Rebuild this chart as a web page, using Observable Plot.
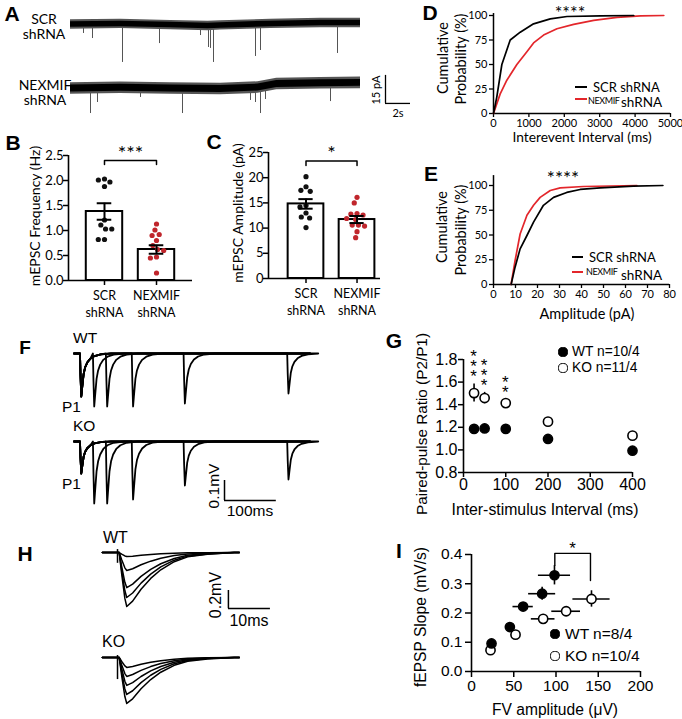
<!DOCTYPE html>
<html><head><meta charset="utf-8">
<script src="https://cdn.jsdelivr.net/npm/d3@7"></script>
<script src="https://cdn.jsdelivr.net/npm/@observablehq/plot@0.6"></script>
<style>
body{margin:0;background:#fff;}
#fig{position:relative;width:682px;height:719px;overflow:hidden;background:#fff;}
.t{position:absolute;white-space:pre;line-height:1;color:#000;}
</style></head><body><div id="fig"></div>
<script>
// ================= DATA =================
// A: mEPSC traces (time s, current pA relative to baseline)
const aScrBaseT = [0, 4, 8, 11, 12, 16, 20, 23.2];
const aScrBaseV = [0, 0.3, -0.3, -0.8, -0.5, 0.3, 0.8, 0.8];
const aScrEventT = [1.04, 1.76, 4.16, 7.12, 10.4, 11.04, 11.2, 11.44, 14.8, 15.2, 21.36];
const aScrEventAmp = [4.8, 7.5, 20.3, 10.2, 5.9, 12.3, 12.8, 20.3, 17.1, 13.9, 15.5];
const aNexBaseT = [0, 4, 8, 12, 15, 16.5, 20, 23.2];
const aNexBaseV = [0, 0.4, 0, -0.3, 0.5, 2.4, 2.8, 3.0];
const aNexEventT = [1.6, 2.16, 5.6, 8.96, 14.4, 14.8, 15.2, 15.6, 20.8];
const aNexEventAmp = [13.4, 7.5, 4.8, 13.4, 6.4, 7.5, 13.4, 5.9, 7.0];
const aNoise = [2.5, 3.1];               // half-width of noise band (pA): SCR, NEXMIF
const aScaleBar = {t: 25.2, v: -8.0, dt: 2, dv: 15};

// B: mEPSC frequency (Hz)
const bcGroups = ["SCR\nshRNA", "NEXMIF\nshRNA"];
const bMean = [1.38, 0.62];
const bSem = [0.165, 0.085];
const bScr = [2.03, 2.01, 1.97, 1.88, 1.21, 1.11, 1.03, 1.03, 0.82, 0.82];
const bNex = [1.13, 1.01, 0.92, 0.90, 0.80, 0.70, 0.62, 0.60, 0.47, 0.45, 0.15];
const bSig = {from: 0, to: 1, y: 2.4, leg: 2.32, label: "***"};

// C: mEPSC amplitude (pA)
const cMean = [14.8, 11.7];
const cSem = [0.95, 0.7];
const cScr = [20.2, 18.2, 17.5, 17.3, 14.5, 14.2, 13.0, 12.2, 12.0, 10.1];
const cNex = [16.1, 15.0, 12.9, 12.8, 12.6, 11.9, 11.7, 10.6, 10.6, 10.4, 9.3, 8.1];
const cSig = {from: 0, to: 1, y: 23.3, leg: 22.4, label: "*"};

// D: cumulative interevent interval
const dScrX = [0, 94, 236, 472, 755, 1132, 1604, 2075, 3019, 3962];
const dScrY = [0, 17, 50, 75, 83, 91.5, 96.6, 99, 99.7, 100];
const dNexX = [0, 94, 189, 377, 660, 943, 1132, 1415, 1792, 2264, 2830, 3490, 4151, 4811];
const dNexY = [0, 10, 20, 34, 50, 63, 72, 80, 86.5, 91, 95, 98, 99.7, 100];

// E: cumulative amplitude
const eScrX = [8, 9.8, 12.1, 15.2, 18.2, 22.7, 27.3, 33.3, 39.4, 48.5, 63.6, 77];
const eScrY = [0, 17.5, 36, 49.5, 63, 80, 88, 93, 96, 97.6, 99.3, 100];
const eNexX = [8, 9.8, 12.1, 15.2, 18.2, 21.2, 25.8, 30.3, 40.9, 65.2];
const eNexY = [0, 24, 51, 70, 80, 88, 95, 97.6, 99, 100];

// F: paired-pulse traces (ms, mV)
const fISI = [25, 50, 100, 200, 400];
const fTmplT = [0, 1, 2.5, 4, 7, 10, 14, 20, 28, 40, 60];
const fTmplV = [0, -0.5, -1, -0.82, -0.48, -0.32, -0.21, -0.12, -0.06, -0.02, 0];
const fWT_P1 = 0.215;
const fWT_P2 = [0.265, 0.265, 0.265, 0.25, 0.2];
const fKO_P1 = 0.16;
const fKO_P2 = [0.31, 0.31, 0.29, 0.22, 0.19];
const fRange = [-11.5, 444];
const fScaleBar = {t: 279, v: -0.295, dt: 100, dv: 0.1};

// G: paired-pulse ratio
const gISI = [25, 50, 100, 200, 400];
const gWT = [1.186, 1.19, 1.186, 1.097, 0.993];
const gKO = [1.503, 1.459, 1.414, 1.25, 1.126];
const gKOsem = [0.08, 0.05, 0.03, 0.02, 0.02];
const gStars = [3, 3, 2, 0, 0];

// H: fEPSP traces (ms, mV)
const hT = [0.4, 1.0, 1.75, 2.2, 3.6, 5.6, 7.9, 10.3, 13.5, 16.7, 21.4, 27.8];
const hV = [0, -0.4, -0.85, -1, -0.9, -0.68, -0.48, -0.32, -0.17, -0.08, -0.03, 0];
const hWTamp = [0.045, 0.2, 0.39, 0.5, 0.6];
const hKOamp = [0.11, 0.21, 0.31, 0.41, 0.51];
const hWTartifact = [0.033, -0.12];
const hKOartifact = [0.022, -0.245];
const hRange = [-3.6, 29];
const hScaleBar = {t: 26.4, v: -0.622, dt: 10, dv: 0.2};

// I: input-output
const iWTx = [23.7, 45.4, 61.1, 83.6, 98.2];
const iWTy = [0.096, 0.152, 0.222, 0.266, 0.329];
const iWTxe = [3, 5, 12, 16, 19];
const iWTye = [0.01, 0.01, 0.012, 0.022, 0.033];
const iKOx = [22.5, 52.1, 84.8, 112, 142];
const iKOy = [0.073, 0.126, 0.18, 0.206, 0.248];
const iKOxe = [3, 5, 14, 17, 22];
const iKOye = [0.008, 0.01, 0.012, 0.015, 0.028];
const iSig = {x1: 98.6, x2: 140.8, y: 0.404, leg1: 0.362, leg2: 0.311, label: "*"};

// ================= DRAWING =================
const fig = document.getElementById("fig");
const LATO = "Lato, 'Open Sans', sans-serif";
const ARIAL = "'Liberation Sans', Arial, sans-serif";
const RED = "#e3262b";
const RED_DOT = "#c0262c";

function put(node, left, top) {
  node.style.position = "absolute";
  node.style.left = left + "px";
  node.style.top = top + "px";
  fig.appendChild(node);
  return node;
}
function label(text, x, y, o = {}) {
  const d = document.createElement("div");
  d.className = "t";
  d.textContent = text;
  d.style.fontFamily = o.family || LATO;
  d.style.fontSize = (o.size || 14) + "px";
  d.style.fontWeight = o.weight || "normal";
  if (o.lh) d.style.lineHeight = o.lh;
  if (o.ls) d.style.letterSpacing = o.ls + "px";
  d.style.textAlign = o.align || "center";
  if (o.color) d.style.color = o.color;
  const tx = o.anchor === "start" ? "0" : o.anchor === "end" ? "-100%" : "-50%";
  d.style.left = x + "px";
  d.style.top = y + "px";
  d.style.transform = `translate(${tx},-50%)` + (o.rot ? ` rotate(${o.rot}deg)` : "");
  fig.appendChild(d);
}
function swatch(x1, x2, y, color) {
  const d = document.createElement("div");
  d.style.cssText = `position:absolute;left:${x1}px;top:${y - 1}px;width:${x2 - x1}px;height:2px;background:${color}`;
  fig.appendChild(d);
}
function legendDot(x, y, r, filled) {
  const d = document.createElement("div");
  d.style.cssText = `position:absolute;left:${x - r}px;top:${y - r}px;width:${2 * r}px;height:${2 * r}px;border-radius:50%;box-sizing:border-box;border:1.6px solid #000;background:${filled ? "#000" : "#fff"}`;
  fig.appendChild(d);
}
const style = fam => ({fontFamily: fam, background: "transparent", color: "#000", overflow: "visible"});

function tracePlot(w, h, xd, yd, marks) {
  return Plot.plot({
    width: w, height: h, margin: 0,
    x: {domain: xd, range: [0, w], axis: null},
    y: {domain: yd, range: [h, 0], axis: null},
    style: style(ARIAL),
    marks
  });
}

// ---------- A ----------
function noiseMarks(baseT, baseV, noise, evT, evA) {
  const base = baseT.map((t, i) => ({t, v: baseV[i]}));
  const ev = evT.map((t, i) => ({t, a: evA[i]}));
  return [
    Plot.ruleX(ev, {x: "t", y1: 0, y2: d => -d.a, stroke: "#555", strokeWidth: 1}),
    Plot.areaY(base, {x: "t", y1: d => d.v - noise, y2: d => d.v + noise, fill: "#555"}),
    Plot.areaY(base, {x: "t", y1: d => d.v - noise * 0.6, y2: d => d.v + noise * 0.6, fill: "#000"})
  ];
}
put(tracePlot(350, 65, [0, 28], [-24.6, 10.16],
  noiseMarks(aScrBaseT, aScrBaseV, aNoise[0], aScrEventT, aScrEventAmp)), 70, 5);
put(tracePlot(350, 60, [0, 28], [-18.2, 13.9], [
  ...noiseMarks(aNexBaseT, aNexBaseV, aNoise[1], aNexEventT, aNexEventAmp),
  Plot.ruleX([aScaleBar], {x: "t", y1: "v", y2: d => d.v + d.dv, strokeWidth: 1.3}),
  Plot.ruleY([aScaleBar], {y: "v", x1: "t", x2: d => d.t + d.dt, strokeWidth: 1.3})
]), 70, 62);
label("A", 12, 13, {family: ARIAL, weight: "bold", size: 21});
label("SCR\nshRNA", 44, 26, {size: 14, lh: "15px"});
label("NEXMIF\nshRNA", 45, 92, {size: 14, lh: "15px"});
label("15 pA", 375, 90, {size: 11, rot: -90});
label("2s", 398, 112, {size: 11});

// ---------- B, C ----------
function barPanel(o) {
  const {left, top, W, H, mL, mR, mT, mB, xd, yd, yTicks, yFmt, mean, sem, scr, nex, sig} = o;
  const ppu = (W - mL - mR) / (xd[1] - xd[0]);
  const mid = (xd[0] + xd[1]) / 2;
  const idx = [0, 1];
  const caps = idx.flatMap(i => [{i, y: mean[i] + sem[i]}, {i, y: mean[i] - sem[i]}]);
  const bracket = [
    {x: sig.from, y: sig.leg}, {x: sig.from, y: sig.y},
    {x: sig.to, y: sig.y}, {x: sig.to, y: sig.leg}
  ];
  const p = Plot.plot({
    width: W, height: H, marginLeft: mL, marginRight: mR, marginTop: mT, marginBottom: mB,
    x: {domain: xd}, y: {domain: yd},
    style: style(LATO),
    marks: [
      Plot.rectY(idx, {x1: i => i - 0.35, x2: i => i + 0.35, y1: 0, y2: i => mean[i], fill: "white", stroke: "black", strokeWidth: 2}),
      Plot.dot(scr.map(v => ({v})), Plot.dodgeX("middle", {y: "v", r: 2.6, padding: 2, fill: "#111", dx: (0 - mid) * ppu})),
      Plot.dot(nex.map(v => ({v})), Plot.dodgeX("middle", {y: "v", r: 2.6, padding: 2, fill: RED_DOT, dx: (1 - mid) * ppu})),
      Plot.ruleX(idx, {x: i => i, y1: i => mean[i] - sem[i], y2: i => mean[i] + sem[i], strokeWidth: 2}),
      Plot.ruleY(caps, {x1: d => d.i - 0.14, x2: d => d.i + 0.14, y: "y", strokeWidth: 2}),
      Plot.line(bracket, {x: "x", y: "y", strokeWidth: 1.5}),
      Plot.text([sig], {x: d => (d.from + d.to) / 2, y: "y", text: "label", fontSize: 20, dy: -7}),
      Plot.ruleX([xd[0]], {y1: yd[0], y2: yd[1], strokeWidth: 1.6}),
      Plot.ruleY([0], {strokeWidth: 1.6}),
      Plot.axisY({ticks: yTicks, tickFormat: yFmt, tickSize: 5, tickPadding: 0, fontSize: 13, strokeWidth: 1.5, label: null}),
      Plot.axisX({ticks: idx, tickFormat: i => bcGroups[i], tickSize: 5, tickPadding: 3, fontSize: 12.5, lineHeight: 1.35, strokeWidth: 1.5, label: null})
    ]
  });
  put(p, left, top);
}
barPanel({left: 0, top: 140, W: 200, H: 180, mL: 68, mR: 8, mT: 15, mB: 40,
  xd: [-0.692, 1.692], yd: [0, 2.5], yTicks: [0, 0.5, 1, 1.5, 2, 2.5], yFmt: d3.format(".1f"),
  mean: bMean, sem: bSem, scr: bScr, nex: bNex, sig: bSig});
barPanel({left: 200, top: 140, W: 200, H: 180, mL: 68, mR: 20, mT: 12, mB: 42,
  xd: [-0.735, 1.46], yd: [0, 25], yTicks: [0, 5, 10, 15, 20, 25], yFmt: d => String(d),
  mean: cMean, sem: cSem, scr: cScr, nex: cNex, sig: cSig});
label("B", 13, 142, {family: ARIAL, weight: "bold", size: 21});
label("C", 214, 141, {family: ARIAL, weight: "bold", size: 21});
label("mEPSC Frequency (Hz)", 35, 216, {size: 14, rot: -90});
label("mEPSC Amplitude (pA)", 238, 213, {size: 14, rot: -90});

// ---------- D, E ----------
function cdfPanel(o) {
  const {left, top, W, H, mL, mR, mT, mB, xd, xTicks, yTop, scr, nex} = o;
  const p = Plot.plot({
    width: W, height: H, marginLeft: mL, marginRight: mR, marginTop: mT, marginBottom: mB,
    x: {domain: xd}, y: {domain: [0, 100]},
    style: style(LATO),
    marks: [
      Plot.ruleX([xd[0]], {y1: 0, y2: yTop, strokeWidth: 1.5}),
      Plot.ruleY([0], {strokeWidth: 1.5}),
      Plot.axisX({ticks: xTicks, tickFormat: d3.format("d"), tickSize: 4, tickPadding: 2, fontSize: 11, strokeWidth: 1.3, label: null}),
      Plot.axisY({ticks: [0, 25, 50, 75, 100], tickFormat: d3.format("d"), tickSize: 4, tickPadding: 2, fontSize: 11, strokeWidth: 1.3, label: null}),
      Plot.line(nex, {x: "x", y: "y", stroke: RED, strokeWidth: 1.7}),
      Plot.line(scr, {x: "x", y: "y", stroke: "#000", strokeWidth: 1.7})
    ]
  });
  put(p, left, top);
}
cdfPanel({left: 400, top: 0, W: 282, H: 160, mL: 93, mR: 12, mT: 15, mB: 47,
  xd: [0, 5000], xTicks: [0, 1000, 2000, 3000, 4000, 5000], yTop: 102,
  scr: dScrX.map((x, i) => ({x, y: dScrY[i]})), nex: dNexX.map((x, i) => ({x, y: dNexY[i]}))});
cdfPanel({left: 400, top: 160, W: 282, H: 160, mL: 93, mR: 13, mT: 25, mB: 36,
  xd: [0, 80], xTicks: [0, 10, 20, 30, 40, 50, 60, 70, 80], yTop: 110,
  scr: eScrX.map((x, i) => ({x, y: eScrY[i]})), nex: eNexX.map((x, i) => ({x, y: eNexY[i]}))});
label("D", 430, 12, {family: ARIAL, weight: "bold", size: 21});
label("E", 431, 173, {family: ARIAL, weight: "bold", size: 21});
label("Cumulative", 443, 58, {size: 14.5, rot: -90});
label("Probability (%)", 461, 59, {size: 14.5, rot: -90});
label("Cumulative", 442, 227, {size: 14.5, rot: -90});
label("Probability (%)", 461, 230, {size: 14.5, rot: -90});
label("Interevent Interval (ms)", 582, 137, {size: 13.8});
label("Amplitude (pA)", 587, 314, {size: 14.5});
label("****", 570, 12, {size: 18, lh: 0.5});
label("****", 563, 178, {size: 19, lh: 0.5});
swatch(575, 587, 87, "#000"); label("SCR shRNA", 593, 87, {size: 13, anchor: "start"});
swatch(575, 587, 99, RED); label("NEXMIF", 588, 100, {size: 9, ls: -0.4, anchor: "start"});
label("shRNA", 621, 103, {size: 13.5, anchor: "start"});
swatch(572, 583, 257, "#000"); label("SCR shRNA", 589, 257, {size: 13, anchor: "start"});
swatch(572, 583, 272, RED); label("NEXMIF", 586, 271, {size: 9, ls: -0.4, anchor: "start"});
label("shRNA", 621, 276, {size: 13.5, anchor: "start"});

// ---------- F ----------
function fSweeps(p1, p2s) {
  return fISI.flatMap((isi, k) => {
    const pts = [{t: fRange[0], v: 0}];
    fTmplT.forEach((t, i) => { if (t < isi) pts.push({t, v: p1 * fTmplV[i]}); });
    fTmplT.forEach((t, i) => pts.push({t: t + isi, v: p2s[k] * fTmplV[i]}));
    pts.push({t: fRange[1], v: 0});
    return pts.map(p => ({...p, k}));
  });
}
const fXd = [-18.3, 464.3];
put(tracePlot(250, 75, fXd, [-0.31, 0.065], [
  Plot.line(fSweeps(fWT_P1, fWT_P2), {x: "t", y: "v", z: "k", stroke: "#000", strokeWidth: 1.8})
]), 70, 340);
put(tracePlot(250, 95, fXd, [-0.41, 0.065], [
  Plot.line(fSweeps(fKO_P1, fKO_P2), {x: "t", y: "v", z: "k", stroke: "#000", strokeWidth: 1.8}),
  Plot.ruleX([fScaleBar], {x: "t", y1: "v", y2: d => d.v + d.dv, strokeWidth: 1.5}),
  Plot.ruleY([fScaleBar], {y: "v", x1: "t", x2: d => d.t + d.dt, strokeWidth: 1.5})
]), 70, 428);
label("F", 25, 347, {family: ARIAL, weight: "bold", size: 19});
label("WT", 73, 338, {family: ARIAL, size: 15.5, anchor: "start"});
label("P1", 62, 407, {family: ARIAL, size: 15.5, anchor: "start"});
label("KO", 73, 426, {family: ARIAL, size: 15.5, anchor: "start"});
label("P1", 62, 484, {family: ARIAL, size: 15.5, anchor: "start"});
label("0.1mV", 214, 486, {family: ARIAL, size: 15.5, rot: -90});
label("100ms", 250, 511, {family: ARIAL, size: 15.5});

// ---------- G ----------
const gData = gISI.map((isi, i) => ({isi, wt: gWT[i], ko: gKO[i], sem: gKOsem[i], stars: gStars[i]}));
const gLeft = 360, gTop = 330;
const gPlot = put(Plot.plot({
  width: 322, height: 190, marginLeft: 103, marginRight: 50, marginTop: 29, marginBottom: 48,
  x: {domain: [0, 400]}, y: {domain: [0.8, 1.8]},
  style: style(ARIAL),
  marks: [
    Plot.ruleX([0], {y1: 0.8, y2: 1.8, strokeWidth: 1.6}),
    Plot.ruleY([0.8], {x1: 0, x2: 400, strokeWidth: 1.6}),
    Plot.axisY({ticks: [0.8, 1, 1.2, 1.4, 1.6, 1.8], tickFormat: d3.format(".1f"), tickSize: 5, tickPadding: 1, fontSize: 16, strokeWidth: 1.5, label: null}),
    Plot.axisX({ticks: [0, 100, 200, 300, 400], tickSize: 5, tickPadding: 1, fontSize: 16, strokeWidth: 1.5, label: null}),
    Plot.ruleX(gData, {x: "isi", y1: d => d.ko - d.sem, y2: d => d.ko + d.sem, strokeWidth: 1.6}),
    Plot.dot(gData, {x: "isi", y: "wt", r: 4.6, fill: "#000", stroke: "#000"}),
    Plot.dot(gData, {x: "isi", y: "ko", r: 4.6, fill: "#fff", stroke: "#000", strokeWidth: 1.6})
  ]
}), gLeft, gTop);
// significance stars stacked above KO error bars (positions from the plot's own scales)
{
  const sx = gPlot.scale("x"), sy = gPlot.scale("y");
  gData.filter(d => d.stars > 0).forEach(d => {
    const px = gLeft + sx.apply(d.isi);
    const top = gTop + sy.apply(d.ko + d.sem);
    const cy = top - 10 - (d.stars - 1) * 5 + 3.9;
    label(Array(d.stars).fill("*").join("\n"), px, cy, {family: ARIAL, size: 17, lh: "10px"});
  });
}
label("G", 394, 340, {family: ARIAL, weight: "bold", size: 21});
label("Paired-pulse Ratio (P2/P1)", 422, 424, {family: ARIAL, size: 15.3, rot: -90});
label("Inter-stimulus Interval (ms)", 545, 510, {family: ARIAL, size: 15.8});
legendDot(563, 352, 4.6, true); label("WT n=10/4", 572, 352, {family: ARIAL, size: 13.8, anchor: "start"});
legendDot(563, 368, 4.6, false); label("KO n=11/4", 572, 368, {family: ARIAL, size: 13.8, anchor: "start"});

// ---------- H ----------
function hSweeps(amps) {
  return amps.flatMap((a, k) => [
    {t: hRange[0], v: 0, k}, {t: 0, v: 0, k},
    ...hT.map((t, i) => ({t, v: a * hV[i], k})),
    {t: hRange[1], v: 0, k}
  ]);
}
const hXd = [-5.24, 38.8];
put(tracePlot(185, 85, hXd, [-0.789, 0.156], [
  Plot.line(hSweeps(hWTamp), {x: "t", y: "v", z: "k", stroke: "#000", strokeWidth: 1.5}),
  Plot.ruleX([0], {y1: hWTartifact[0], y2: hWTartifact[1], strokeWidth: 1.5}),
  Plot.ruleX([hScaleBar], {x: "t", y1: "v", y2: d => d.v + d.dv, strokeWidth: 1.5}),
  Plot.ruleY([hScaleBar], {y: "v", x1: "t", x2: d => d.t + d.dt, strokeWidth: 1.5})
]), 95, 538);
put(tracePlot(185, 75, hXd, [-0.644, 0.189], [
  Plot.line(hSweeps(hKOamp), {x: "t", y: "v", z: "k", stroke: "#000", strokeWidth: 1.5}),
  Plot.ruleX([0], {y1: hKOartifact[0], y2: hKOartifact[1], strokeWidth: 1.5})
]), 95, 640);
label("H", 25, 553, {family: ARIAL, weight: "bold", size: 21});
label("WT", 103, 538, {family: ARIAL, size: 16, anchor: "start"});
label("KO", 102, 642, {family: ARIAL, size: 16, anchor: "start"});
label("0.2mV", 216, 595, {family: ARIAL, size: 16, rot: -90});
label("10ms", 249, 621, {family: ARIAL, size: 16});

// ---------- I ----------
const iWT = iWTx.map((x, i) => ({x, y: iWTy[i], xe: iWTxe[i], ye: iWTye[i]}));
const iKO = iKOx.map((x, i) => ({x, y: iKOy[i], xe: iKOxe[i], ye: iKOye[i]}));
const errMarks = data => [
  Plot.ruleY(data, {y: "y", x1: d => d.x - d.xe, x2: d => d.x + d.xe, strokeWidth: 1.6}),
  Plot.ruleX(data, {x: "x", y1: d => d.y - d.ye, y2: d => d.y + d.ye, strokeWidth: 1.6})
];
put(Plot.plot({
  width: 322, height: 199, marginLeft: 111, marginRight: 42, marginTop: 34, marginBottom: 48,
  x: {domain: [0, 200]}, y: {domain: [0, 0.4]},
  style: style(ARIAL),
  marks: [
    Plot.ruleX([0], {y1: 0, y2: 0.4, strokeWidth: 1.6}),
    Plot.ruleY([0], {x1: 0, x2: 200, strokeWidth: 1.6}),
    Plot.axisY({ticks: [0, 0.1, 0.2, 0.3, 0.4], tickFormat: d3.format(".1f"), tickSize: 6, tickPadding: 3, fontSize: 15.5, strokeWidth: 1.5, label: null}),
    Plot.axisX({ticks: [0, 50, 100, 150, 200], tickSize: 6, tickPadding: 2, fontSize: 15.5, strokeWidth: 1.5, label: null}),
    ...errMarks(iKO), ...errMarks(iWT),
    Plot.dot(iKO, {x: "x", y: "y", r: 4.6, fill: "#fff", stroke: "#000", strokeWidth: 1.6}),
    Plot.dot(iWT, {x: "x", y: "y", r: 4.6, fill: "#000", stroke: "#000"}),
    Plot.line([{x: iSig.x1, y: iSig.leg1}, {x: iSig.x1, y: iSig.y}, {x: iSig.x2, y: iSig.y}, {x: iSig.x2, y: iSig.leg2}],
      {x: "x", y: "y", strokeWidth: 1.4}),
    Plot.text([iSig], {x: d => (d.x1 + d.x2) / 2, y: "y", text: "label", fontSize: 17, dy: -5})
  ]
}), 360, 520);
label("I", 399, 550, {family: ARIAL, weight: "bold", size: 21});
label("fEPSP Slope (mV/s)", 421, 617, {family: ARIAL, size: 15.6, rot: -90});
label("FV amplitude (\u03bcV)", 555, 710, {family: ARIAL, size: 15.6});
legendDot(555, 634, 4.6, true); label("WT n=8/4", 565, 634, {family: ARIAL, size: 15.5, anchor: "start"});
legendDot(555, 656, 4.6, false); label("KO n=10/4", 565, 656, {family: ARIAL, size: 15.5, anchor: "start"});
</script></body></html>
